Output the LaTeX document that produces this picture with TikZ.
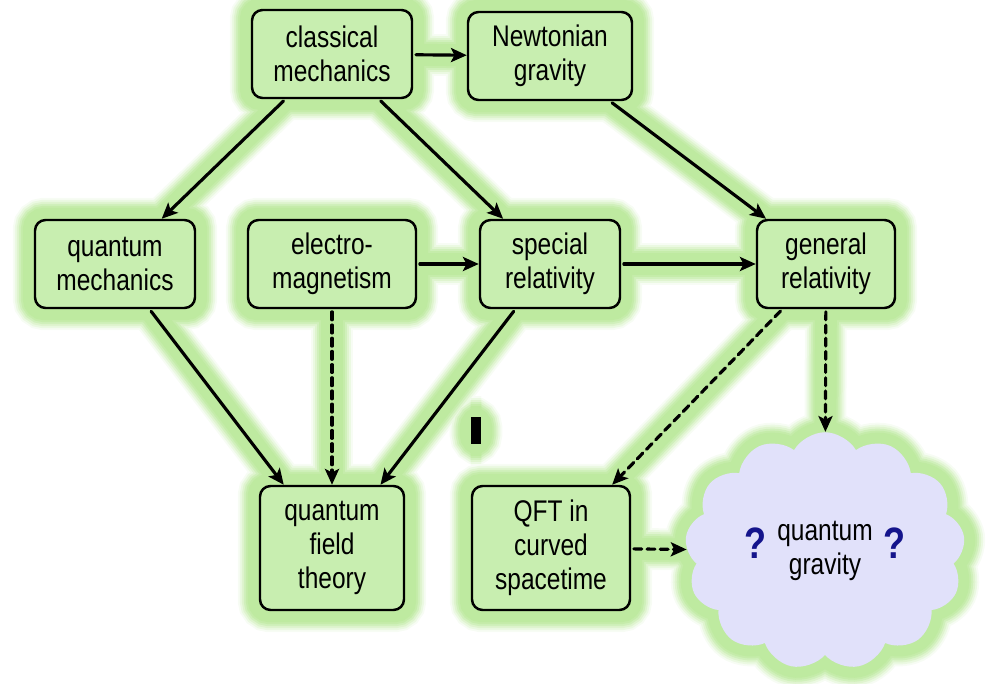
\documentclass[tikz,border=0pt]{standalone}
\usepackage{fontspec}
\setmainfont{Liberation Sans}[FakeStretch=0.82]
\usetikzlibrary{arrows.meta,shapes.symbols}

\pgfdeclarelayer{glow}
\pgfsetlayers{glow,main}

\definecolor{boxgreen}{RGB}{200,238,176}
\definecolor{glowgreen}{RGB}{190,234,160}
\definecolor{cloudblue}{RGB}{225,225,250}
\definecolor{qnavy}{RGB}{20,20,140}

\tikzset{
  topic/.style={draw=black,fill=boxgreen,line width=1.4pt,rounded corners=6pt,
    align=center,minimum height=1.76cm,inner sep=2pt},
  link/.style={line width=1.8pt,-{Stealth[length=9pt,width=8pt,inset=2pt]},
    shorten <=1.5pt},
  guess/.style={link,dash pattern=on 4.5pt off 3pt},
  qgcloud/.style={cloud,cloud puffs=13,cloud puff arc=120,cloud ignores aspect,
    minimum width=5.6cm,minimum height=4.75cm,fill=cloudblue,align=center,
    inner sep=0pt},
}

\newcommand{\qmk}{{\color{qnavy}\fontsize{25}{25}\selectfont\bfseries ?}}
\newcommand{\qgtext}{\qmk\hspace{6pt}\begin{tabular}{@{}c@{}}quantum\\gravity\end{tabular}\hspace{6pt}\qmk}

\begin{document}
\begin{tikzpicture}[x=1cm,y=1cm,line cap=round,line join=round,
    font=\fontsize{17}{19.3}\selectfont]
    \useasboundingbox (0,0) rectangle (19.74,13.68);

    %----------------------------------------------------------
    % Top row
    \node[topic,minimum width=3.2cm] (cm) at (6.64,12.60) {classical\\mechanics};
    \node[topic,minimum width=3.28cm] (ng) at (11.00,12.56) {Newtonian\\gravity};

    % Middle row
    \node[topic,minimum width=3.2cm] (qm) at (2.30,8.40) {quantum\\mechanics};
    \node[topic,minimum width=3.36cm] (em) at (6.64,8.40) {electro-\\magnetism};
    \node[topic,minimum width=2.8cm] (sr) at (11.00,8.40) {special\\relativity};
    \node[topic,minimum width=2.76cm] (gr) at (16.52,8.40) {general\\relativity};

    % Bottom row
    \node[topic,minimum width=2.88cm,minimum height=2.48cm] (qft)
        at (6.64,2.72) {quantum\\field\\theory};
    \node[topic,minimum width=3.16cm,minimum height=2.48cm] (qftc)
        at (11.02,2.72) {QFT in\\curved\\spacetime};
    \node[qgcloud] (qg) at (16.50,2.66) {\qgtext};

    \node[fill=black,minimum width=0.2cm,minimum height=0.54cm,inner sep=0pt]
        (blot) at (9.52,5.06) {};

    %----------------------------------------------------------
    % Connections
    \draw[link] (cm) -- (ng);
    \draw[link] (cm) -- (qm);
    \draw[link] (cm) -- (sr);
    \draw[link] (ng) -- (gr);
    \draw[link] (em) -- (sr);
    \draw[link] (sr) -- (gr);
    \draw[link] (qm) -- (qft);
    \draw[link] (sr) -- (qft);
    \draw[guess] (em) -- (qft);
    \draw[guess] (gr) -- (qftc);
    \draw[guess] (gr) -- (qg);
    \draw[guess] (qftc) -- (qg);

    %----------------------------------------------------------
    % Green halo behind everything
    \begin{pgfonlayer}{glow}
        \foreach \w/\c in {42/12,38/30,34/50,30/72,26/90,22/100}{
            \begin{scope}[line width=\w*0.567pt,draw=glowgreen!\c,fill=glowgreen!\c]
                \foreach \n in {cm,ng,qm,em,sr,gr,qft,qftc,blot}
                    \filldraw[rounded corners=6pt] (\n.south west) rectangle (\n.north east);
                \foreach \a/\b in {cm/ng,cm/qm,cm/sr,ng/gr,em/sr,sr/gr,
                                   qm/qft,em/qft,sr/qft,gr/qftc,gr/qg,qftc/qg}
                    \draw (\a) -- (\b);
                \node[qgcloud,draw=glowgreen!\c,fill=glowgreen!\c,text opacity=0]
                    at (qg.center) {\qgtext};
            \end{scope}
        }
    \end{pgfonlayer}
\end{tikzpicture}
\end{document}
